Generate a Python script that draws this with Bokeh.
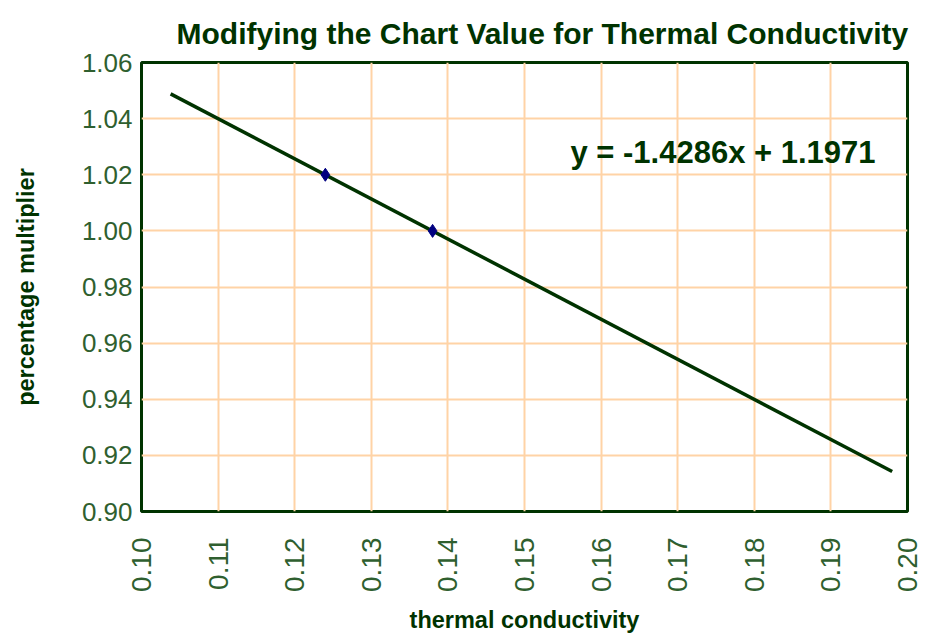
from bokeh.plotting import figure
from bokeh.models import FixedTicker, Label, NumeralTickFormatter
from bokeh.embed import file_html
from bokeh.resources import INLINE
import math

# data
conductivity = [0.124, 0.138]
multiplier = [1.02, 1.00]
slope = -1.4286
intercept = 1.1971
trend_x = [0.1038, 0.198]
trend_y = [slope * x + intercept for x in trend_x]
x_ticks = [0.10, 0.11, 0.12, 0.13, 0.14, 0.15, 0.16, 0.17, 0.18, 0.19, 0.20]
y_ticks = [0.90, 0.92, 0.94, 0.96, 0.98, 1.00, 1.02, 1.04, 1.06]
title_text = "Modifying the Chart Value for Thermal Conductivity"

FONT = "Liberation Sans"
DARK = "#003300"
TICK = "#2f5f2f"

p = figure(width=925, height=636, output_backend="svg", toolbar_location=None,
           x_range=(0.10, 0.20), y_range=(0.90, 1.06),
           min_border_left=141, min_border_right=18, min_border_top=62, min_border_bottom=125,
           title=title_text)

p.title.text_font = FONT
p.title.text_font_size = "30px"
p.title.text_font_style = "bold"
p.title.text_color = DARK
p.title.text_line_height = 0.6
p.title.align = "left"
p.title.offset = 35
p.title.standoff = 26

p.outline_line_color = DARK
p.outline_line_width = 3
p.outline_line_alpha = 1.0
p.background_fill_color = "white"

p.xgrid.grid_line_color = "#ffd3a6"
p.ygrid.grid_line_color = "#ffd3a6"
p.xgrid.grid_line_width = 2
p.ygrid.grid_line_width = 2

p.xaxis.ticker = FixedTicker(ticks=x_ticks)
p.yaxis.ticker = FixedTicker(ticks=y_ticks)
p.xaxis.formatter = NumeralTickFormatter(format="0.00")
p.yaxis.formatter = NumeralTickFormatter(format="0.00")

for ax in (p.xaxis, p.yaxis):
    ax.axis_line_color = None
    ax.major_tick_line_color = None
    ax.minor_tick_line_color = None
    ax.major_tick_out = 0
    ax.major_tick_in = 0
    ax.major_label_text_font = FONT
    ax.major_label_text_color = TICK
    ax.axis_label_text_font = FONT
    ax.axis_label_text_font_style = "bold"
    ax.axis_label_text_font_size = "23.5px"
    ax.axis_label_text_color = DARK

p.xaxis.major_label_text_font_size = "28px"
p.yaxis.major_label_text_font_size = "26px"
p.xaxis.major_label_orientation = math.pi / 2
p.xaxis.major_label_standoff = 26
p.yaxis.major_label_standoff = 9
p.xaxis.axis_label = "thermal conductivity"
p.yaxis.axis_label = "percentage multiplier"
p.xaxis.axis_label_standoff = 12
p.yaxis.axis_label_standoff = 40

p.line(trend_x, trend_y, line_color=DARK, line_width=3.5)
p.scatter(conductivity, multiplier, marker="diamond", size=13, fill_color="#000080",
          line_color="#000080")

eq = Label(x=0.156, y=1.028, text="y = -1.4286x + 1.1971", text_font=FONT,
           text_font_size="31px", text_font_style="bold", text_color=DARK,
           text_baseline="middle", text_align="left")
p.add_layout(eq)

open("out.html", "w").write(file_html(p, INLINE))
